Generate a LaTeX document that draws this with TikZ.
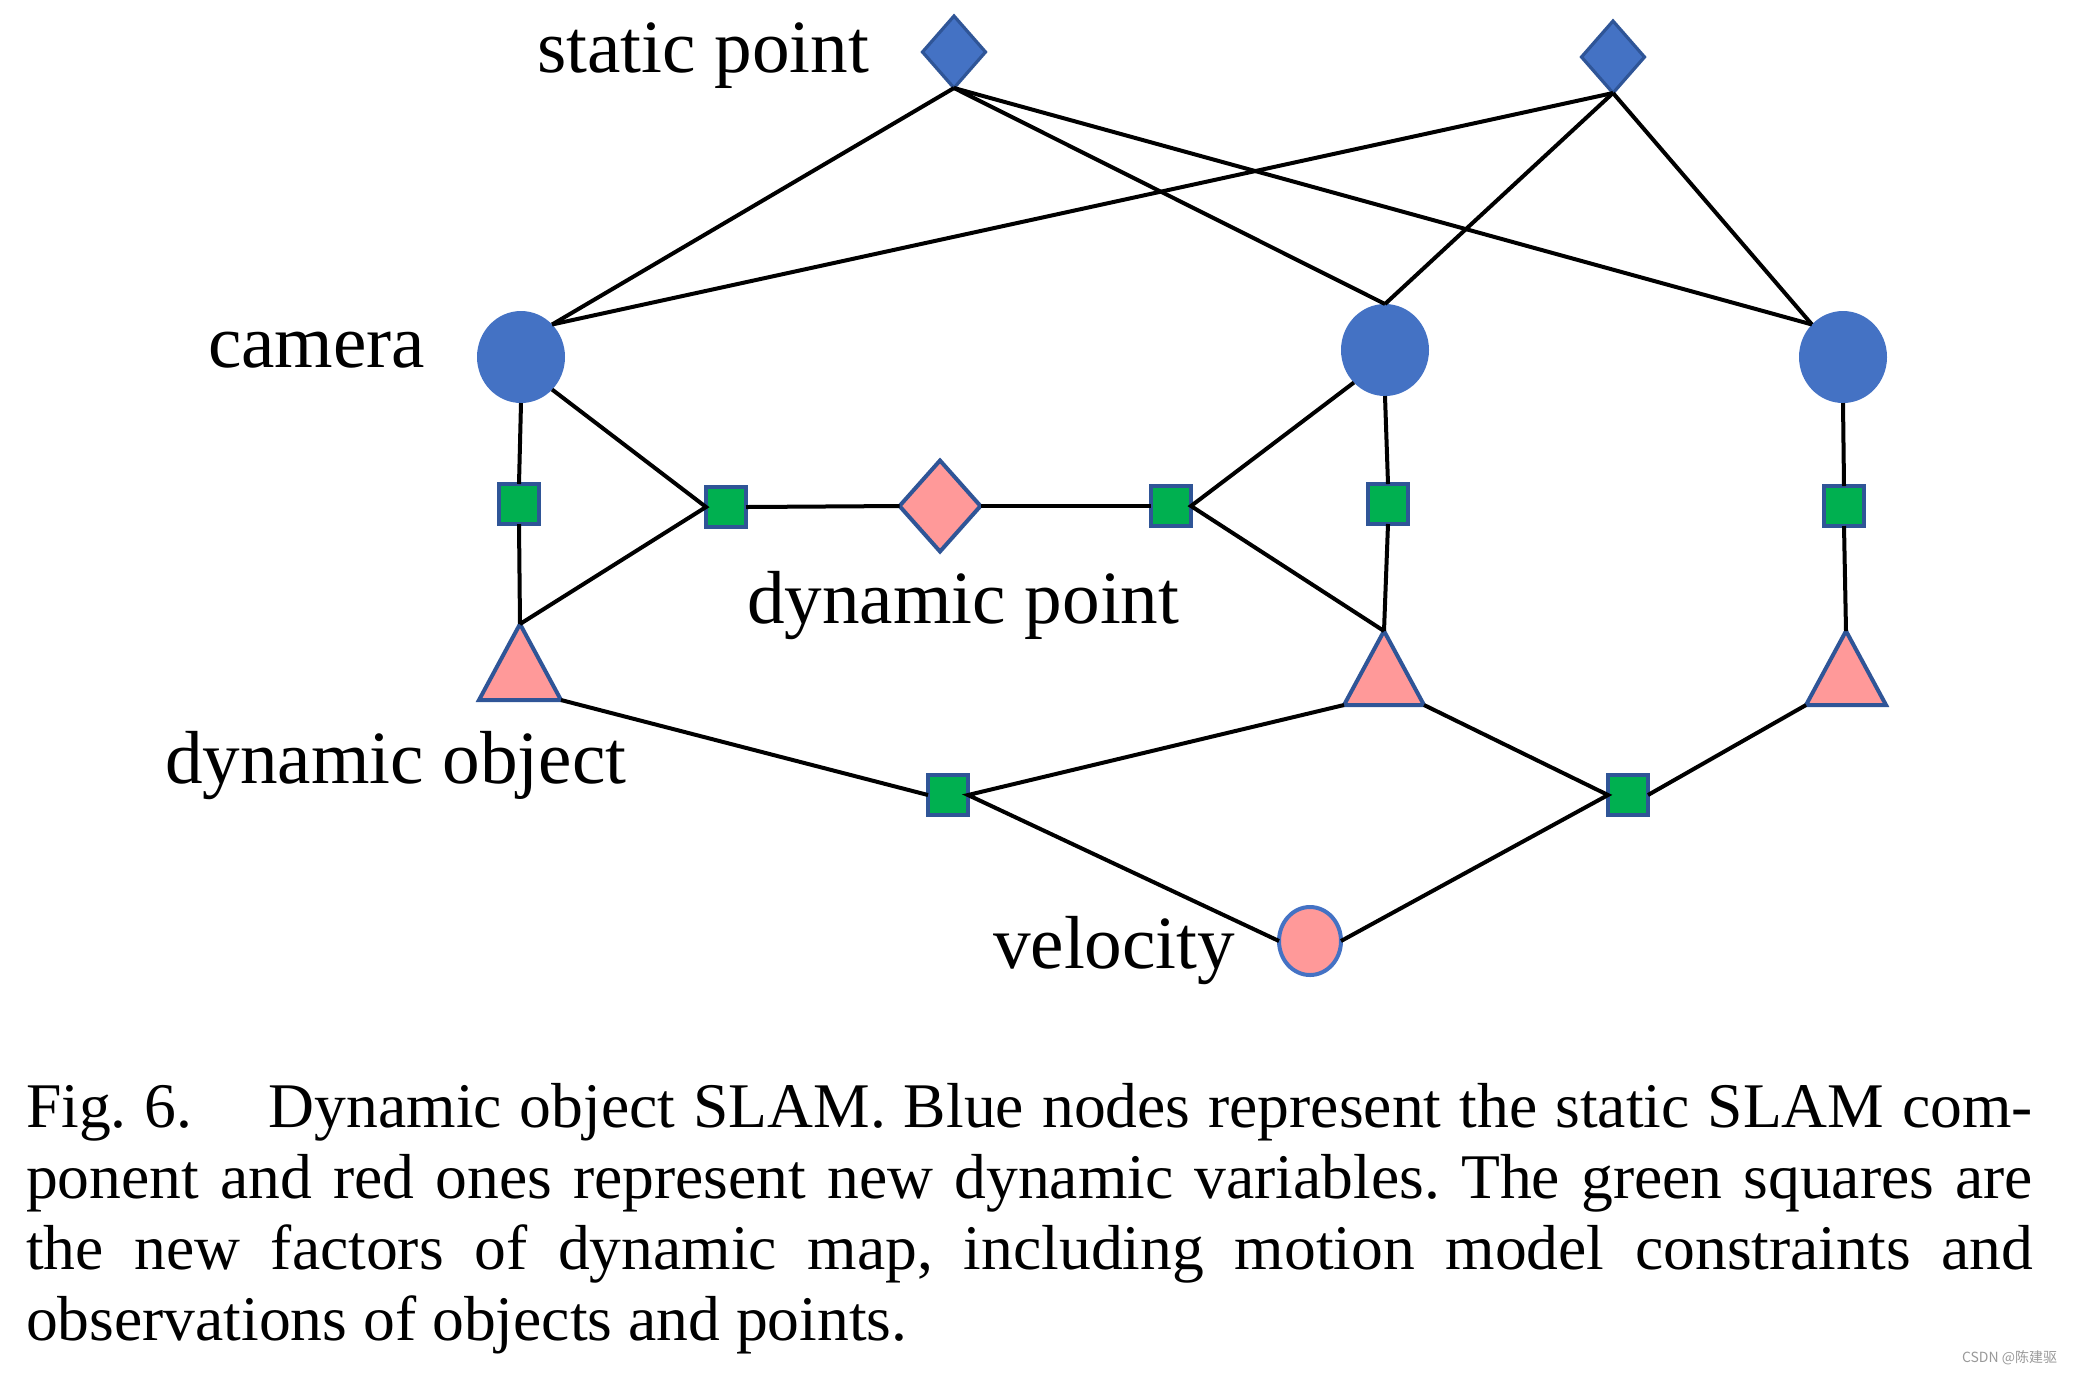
\documentclass[tikz,border=0pt]{standalone}
\usepackage{fontspec}
\setmainfont{Liberation Serif}
\newfontfamily\cjkfont{Noto Sans CJK SC}
\usepackage{tikz}
\usetikzlibrary{shapes.geometric}
\usepackage{xcolor}
\definecolor{slamblue}{HTML}{4472C4}
\definecolor{rimblue}{HTML}{2F5597}
\definecolor{dynpink}{HTML}{FF9999}
\definecolor{factgreen}{HTML}{00B050}

\begin{document}
\begin{tikzpicture}[x=0.25pt, y=-0.25pt, every node/.style={inner sep=0pt, outer sep=0pt},
    lbl/.style={anchor=base west, font=\fontsize{18.8}{22}\selectfont},
    staticpt/.style={diamond, draw=rimblue, line width=0.8pt, fill=slamblue, minimum width=15.75pt, minimum height=18pt},
    dynpt/.style={diamond, draw=rimblue, line width=1pt, fill=dynpink, minimum width=20.25pt, minimum height=22.75pt},
    cam/.style={ellipse, fill=slamblue, minimum width=22pt, minimum height=23pt},
    velo/.style={ellipse, draw=slamblue, line width=1pt, fill=dynpink, minimum width=15.5pt, minimum height=17pt},
    factor/.style={rectangle, draw=rimblue, line width=1pt, fill=factgreen, minimum size=10pt},
    objtri/.style={draw=rimblue, line width=1pt, fill=dynpink},
    link/.style={line width=1pt, black}]
    \useasboundingbox (0,0) rectangle (2077,1374);

    \node (sp1) [staticpt] at (954,52) {};
    \node (sp2) [staticpt] at (1613,57) {};
    \node (c1)  [cam] at (521,357) {};
    \node (c2)  [cam] at (1385,350) {};
    \node (c3)  [cam] at (1843,357) {};
    \node (f1)  [factor] at (519,504) {};
    \node (f2)  [factor] at (726,507) {};
    \node (dp)  [dynpt] at (940,506) {};
    \node (f3)  [factor] at (1171,506) {};
    \node (f4)  [factor] at (1388,504) {};
    \node (f5)  [factor] at (1844,506) {};
    \node (f6)  [factor] at (948,795) {};
    \node (f7)  [factor] at (1628,795) {};
    \node (v)   [velo] at (1310,941) {};

    \filldraw[objtri] (520,624) coordinate (o1) -- (561,700) coordinate (o1r) -- (479,700) coordinate (o1l) -- cycle;
    \filldraw[objtri] (1384,631) coordinate (o2) -- (1424,705) coordinate (o2r) -- (1344,705) coordinate (o2l) -- cycle;
    \filldraw[objtri] (1846,631) coordinate (o3) -- (1886,705) coordinate (o3r) -- (1806,705) coordinate (o3l) -- cycle;

    \draw[link] (sp1.south) -- (c1.north east);
    \draw[link] (sp1.south) -- (c2.north);
    \draw[link] (sp1.south) -- (c3.north west);
    \draw[link] (sp2.south) -- (c1.north east);
    \draw[link] (sp2.south) -- (c2.north);
    \draw[link] (sp2.south) -- (c3.north west);
    \draw[link] (c1.south) -- (f1.north);
    \draw[link] (f1.south) -- (o1);
    \draw[link] (c1.south east) -- (f2.west) -- (o1);
    \draw[link] (f2.east) -- (dp.west);
    \draw[link] (dp.east) -- (f3.west);
    \draw[link] (c2.south west) -- (f3.east) -- (o2);
    \draw[link] (c2.south) -- (f4.north);
    \draw[link] (f4.south) -- (o2);
    \draw[link] (c3.south) -- (f5.north);
    \draw[link] (f5.south) -- (o3);
    \draw[link] (o1r) -- (f6.west);
    \draw[link] (o2l) -- (f6.east) -- (v.west);
    \draw[link] (o2r) -- (f7.west) -- (v.east);
    \draw[link] (o3l) -- (f7.east);

    \node (tsp)  [lbl] at (537,72)  {static point};
    \node (tcam) [lbl] at (208,367) {camera};
    \node (tdp)  [lbl] at (747,623) {dynamic point};
    \node (tobj) [lbl] at (165,783) {dynamic object};
    \node (tvel) [lbl] at (993,968) {velocity};

    \node (cap) [anchor=base west, text width=501.75pt, align=justify, font=\fontsize{15.9}{17.75}\selectfont] at (26,1127)
      {\frenchspacing\tolerance=10000 Fig.~6.\hspace{1.2em}Dynamic object SLAM. Blue nodes represent the static SLAM com-\linebreak ponent and red ones represent new dynamic variables. The green squares are\linebreak the new factors of dynamic map, including motion model constraints and\linebreak observations of objects and points.};
    \node (wm) [anchor=base west, font=\cjkfont\fontsize{3.5}{4}\selectfont, text=black!40] at (1962,1362) {CSDN @陈建驱};
\end{tikzpicture}
\end{document}
